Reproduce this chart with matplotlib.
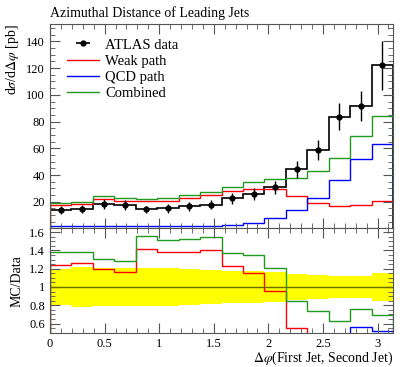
import matplotlib.pyplot as plt
import numpy as np

# 16 bins in delta phi from 0 to pi
edges = np.linspace(0, np.pi, 17)
centers = 0.5 * (edges[:-1] + edges[1:])

data = [13.9, 14.5, 18.5, 17.8, 14.3, 15.0, 16.5, 17.8, 22.8, 25.8, 30.7, 44.2, 58.5, 83.6, 91.5, 122.0]
data_err = [2.8, 3.2, 3.9, 3.7, 2.9, 3.1, 3.3, 3.4, 4.1, 4.4, 4.9, 6.2, 7.6, 10.0, 11.0, 18.5]
weak = [17.3, 18.3, 22.2, 20.8, 20.2, 20.7, 22.9, 25.1, 28.0, 29.8, 29.5, 24.3, 19.0, 17.0, 17.5, 20.7]
qcd = [1.7, 1.7, 1.7, 1.7, 1.7, 1.7, 1.7, 2.0, 2.7, 4.1, 7.6, 13.5, 22.5, 36.0, 51.8, 63.5]
combined = [19.2, 20.1, 24.2, 22.8, 22.2, 22.7, 25.1, 27.6, 31.2, 34.8, 37.1, 37.6, 43.3, 52.7, 69.5, 84.2]

plt.rcParams['font.family'] = ['Liberation Serif', 'DejaVu Serif']
plt.rcParams['mathtext.fontset'] = 'stix'
plt.rcParams['font.size'] = 9

RED = '#ff0000'
BLUE = '#0000ff'
GREEN = '#1f9a1f'

fig = plt.figure(figsize=(4.07, 3.67), dpi=100)
ax = fig.add_axes([0.1229, 0.3774, 0.8427, 0.5572])
rax = fig.add_axes([0.1229, 0.0935, 0.8427, 0.2839], sharex=ax)

d = np.array(data)
e = np.array(data_err)

ax.stairs(data, edges, color='black', lw=1.2)
ax.stairs(weak, edges, color=RED, lw=1.0)
ax.stairs(qcd, edges, color=BLUE, lw=1.0)
ax.stairs(combined, edges, color=GREEN, lw=1.0)
ax.errorbar(centers, data, yerr=data_err, fmt='o', color='black', ms=3.5, lw=1.0)

h_data = ax.errorbar([], [], xerr=[], fmt='o', color='black', ms=3.5, lw=1.2)
h_w, = ax.plot([], [], color=RED, lw=1.0)
h_q, = ax.plot([], [], color=BLUE, lw=1.0)
h_c, = ax.plot([], [], color=GREEN, lw=1.0)
ax.legend([h_data, h_w, h_q, h_c], ['ATLAS data', 'Weak path', 'QCD path', 'Combined'],
          loc='upper left', frameon=False, fontsize=10.5, handlelength=2.2,
          handletextpad=0.4, labelspacing=0.2, borderaxespad=0.3,
          bbox_to_anchor=(0.02, 0.98))

ax.set_xlim(0, np.pi)
ax.set_ylim(0, 153)
ax.set_ylabel(r'd$\sigma$/d$\Delta\varphi$ [pb]', loc='top', fontsize=10)
ax.set_title('Azimuthal Distance of Leading Jets', loc='left', fontsize=10, pad=5)
ax.set_yticks([20, 40, 60, 80, 100, 120, 140])
ax.set_yticks(np.arange(0, 155, 5), minor=True)
plt.setp(ax.get_xticklabels(), visible=False)

# ratio panel
rel = e / d
rax.stairs(1 + rel, edges, baseline=1 - rel, fill=True, color='#ffff00', lw=0)
rax.axhline(1.0, color='#6b6b00', lw=1.0)
rax.stairs(np.array(weak) / d, edges, color=RED, lw=1.0)
rax.stairs(np.array(qcd) / d, edges, color=BLUE, lw=1.0)
rax.stairs(np.array(combined) / d, edges, color=GREEN, lw=1.0)
rax.set_ylim(0.5, 1.64)
rax.set_yticks([0.6, 0.8, 1.0, 1.2, 1.4, 1.6])
rax.set_yticklabels(['0.6', '0.8', '1', '1.2', '1.4', '1.6'])
rax.set_yticks(np.arange(0.5, 1.65, 0.05), minor=True)
rax.set_xticks([0, 0.5, 1, 1.5, 2, 2.5, 3])
rax.set_xticklabels(['0', '0.5', '1', '1.5', '2', '2.5', '3'])
rax.set_xticks(np.arange(0, 3.15, 0.1), minor=True)
rax.set_ylabel('MC/Data', fontsize=10)
rax.set_xlabel(r'$\Delta\varphi$(First Jet, Second Jet)', loc='right', fontsize=10, labelpad=0)

for a in (ax, rax):
    a.tick_params(which='both', direction='in', top=True, right=True, labelsize=9)
    a.tick_params(which='major', length=7, width=0.8, color='#555555')
    a.tick_params(which='minor', length=3.5, width=0.6, color='#555555')
    for s in a.spines.values():
        s.set_color('#555555')
        s.set_linewidth(0.8)

fig.align_ylabels([ax, rax])
fig.savefig('out.png', dpi=100)
